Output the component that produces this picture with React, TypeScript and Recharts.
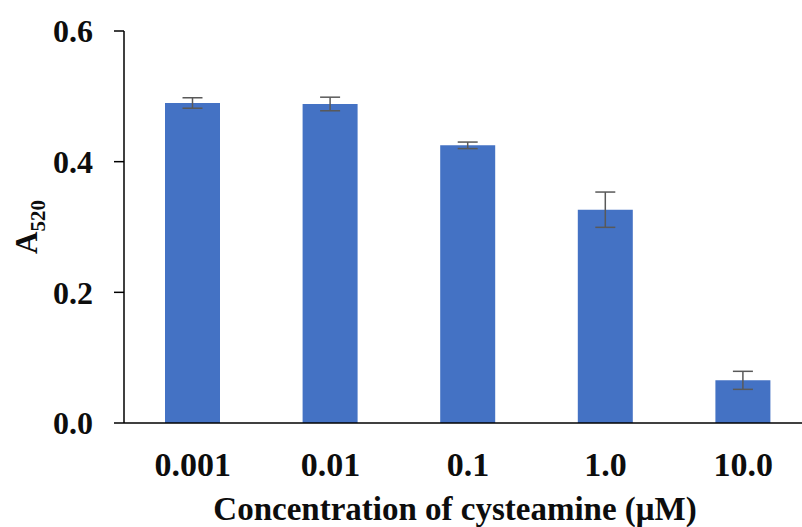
import { BarChart, Bar, XAxis, YAxis, ErrorBar } from 'recharts';

const concentrations = ['0.001', '0.01', '0.1', '1.0', '10.0'];
const absorbance = [0.4898, 0.4883, 0.425, 0.3265, 0.0653];
const stdDev = [0.008, 0.0104, 0.005, 0.027, 0.0138];
const yTicks = [0, 0.2, 0.4, 0.6];

const data = concentrations.map((c, i) => ({
  conc: c,
  a520: absorbance[i],
  err: stdDev[i],
}));

const FONT = '"Liberation Serif", "Times New Roman", serif';

const YTitle = ({ viewBox }: any) => {
  const x = viewBox.x + 37;
  const y = viewBox.y + viewBox.height / 2;
  return (
    <text
      x={x}
      y={y}
      transform={`rotate(-90, ${x}, ${y})`}
      textAnchor="middle"
      fontFamily={FONT}
      fontWeight="bold"
      fontSize={31}
      fill="#0d0d0d"
    >
      A<tspan fontSize={21} dy={8}>520</tspan>
    </text>
  );
};

const XTitle = ({ viewBox }: any) => (
  <text
    x={viewBox.x + viewBox.width / 2 - 13}
    y={viewBox.y + 97}
    textAnchor="middle"
    fontFamily={FONT}
    fontWeight="bold"
    fontSize={33}
    fill="#0d0d0d"
  >
    Concentration of cysteamine (μM)
  </text>
);

const yTickStyle = { fill: '#0d0d0d', fontSize: 32, fontWeight: 'bold', fontFamily: FONT };
const xTickStyle = { ...yTickStyle, fontSize: 34 };

export default function App() {
  return (
    <div style={{ position: 'absolute', left: 0, top: 0, width: 802, height: 527, overflow: 'hidden', background: '#fff' }}>
      <BarChart width={830} height={527} data={data} margin={{ top: 31, right: 18, bottom: 0, left: 0 }}>
        <XAxis
          dataKey="conc"
          height={104}
          tickLine={false}
          tickSize={0}
          tickMargin={29}
          axisLine={{ stroke: '#000', strokeWidth: 1.5 }}
          tick={xTickStyle}
          label={<XTitle />}
        />
        <YAxis
          width={124}
          domain={[0, 0.6]}
          ticks={yTicks}
          tickFormatter={(v: number) => v.toFixed(1)}
          tickSize={10}
          tickMargin={21}
          tickLine={{ stroke: '#000', strokeWidth: 1.5 }}
          axisLine={{ stroke: '#000', strokeWidth: 1.5 }}
          tick={yTickStyle}
          label={<YTitle />}
        />
        <Bar dataKey="a520" fill="#4472C4" barSize={55} isAnimationActive={false}>
          <ErrorBar dataKey="err" width={10} stroke="#595959" strokeWidth={1.5} isAnimationActive={false} />
        </Bar>
      </BarChart>
    </div>
  );
}
